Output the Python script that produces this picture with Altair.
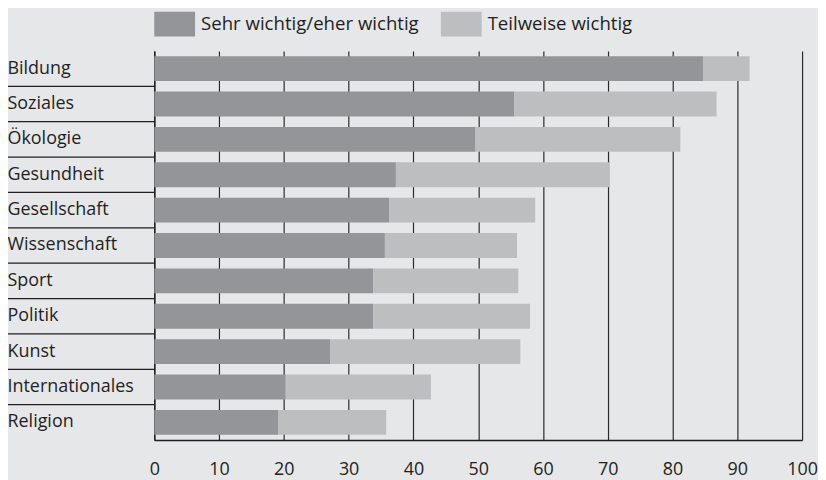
import altair as alt
import pandas as pd

categories = ["Bildung", "Soziales", "Ökologie", "Gesundheit", "Gesellschaft",
              "Wissenschaft", "Sport", "Politik", "Kunst", "Internationales", "Religion"]
series = ["Sehr wichtig/eher wichtig", "Teilweise wichtig"]
strong = [84.7, 55.6, 49.6, 37.3, 36.3, 35.6, 33.8, 33.8, 27.2, 20.3, 19.1]
partial = [7.2, 31.2, 31.6, 33.0, 22.5, 20.4, 22.4, 24.2, 29.3, 22.4, 16.7]
x_ticks = [0, 10, 20, 30, 40, 50, 60, 70, 80, 90, 100]

rows = []
for c, s, p in zip(categories, strong, partial):
    rows.append({"cat": c, "serie": series[0], "value": s, "ord": 0})
    rows.append({"cat": c, "serie": series[1], "value": p, "ord": 1})
df = pd.DataFrame(rows)
sep = pd.DataFrame({"cat": categories[1:]})

DARK = "#231f20"
FONT = "Open Sans"

y_scale = alt.Scale(domain=categories, paddingInner=0, paddingOuter=0)
y_axis = alt.Axis(title=None, ticks=False, domain=True, domainColor=DARK,
                  domainWidth=1.4, labelAlign="left", labelPadding=148,
                  labelFontSize=18, labelColor=DARK, labelFont=FONT,
                  labelLimit=200, grid=False)

bars = alt.Chart(df).mark_bar(height=25).encode(
    x=alt.X("value:Q", stack="zero",
            scale=alt.Scale(domain=[0, 100], nice=False),
            axis=alt.Axis(values=x_ticks, title=None, ticks=False, grid=True,
                          gridColor="#2b2b2b", gridWidth=1.2,
                          domain=True, domainColor=DARK, domainWidth=1.4,
                          labelFontSize=18, labelPadding=21, labelColor=DARK,
                          labelFont=FONT, labelFlush=False)),
    y=alt.Y("cat:N", scale=y_scale, axis=y_axis),
    color=alt.Color("serie:N",
                    scale=alt.Scale(domain=series, range=["#939598", "#bcbec0"]),
                    legend=alt.Legend(title=None, orient="none", direction="horizontal",
                                      legendX=0, legendY=-48, padding=0,
                                      symbolType="M-1,-0.61H1V0.61H-1Z",
                                      symbolSize=1681, symbolStrokeWidth=0,
                                      labelOffset=6, columnPadding=22,
                                      labelFontSize=18.7, labelColor=DARK,
                                      labelFont=FONT, labelLimit=400)),
    order=alt.Order("ord:Q"),
)

rules = alt.Chart(sep).mark_rule(color=DARK, strokeWidth=1.3).encode(
    y=alt.Y("cat:N", bandPosition=0, scale=y_scale, axis=y_axis),
    x=alt.value(-148),
    x2=alt.value(0),
)

chart = alt.layer(rules, bars).properties(
    width=651, height=391,
    autosize=alt.AutoSizeParams(type="none"),
    padding={"left": 147, "top": 42, "right": 16, "bottom": 46},
    background="#e6e7e8",
).configure_view(stroke=None)

chart.save("out.html", embed_options={"renderer": "svg", "actions": False})
